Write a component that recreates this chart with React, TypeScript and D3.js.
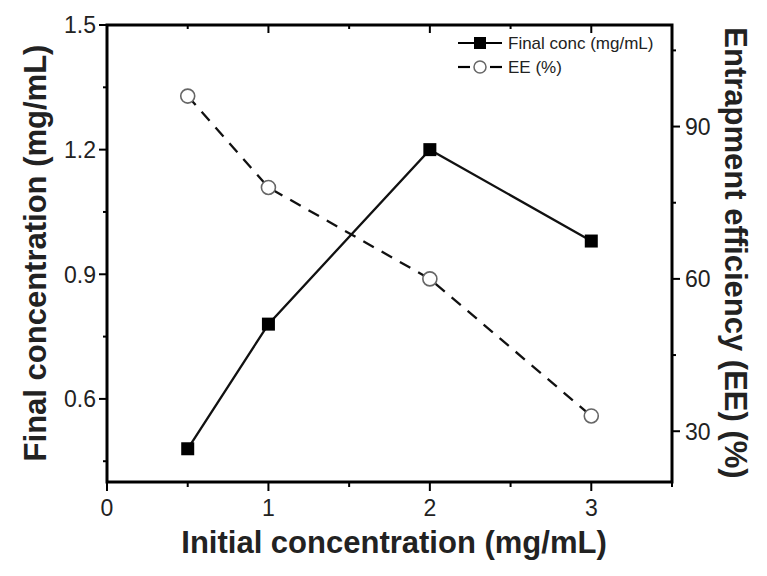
import React from "react";
import * as d3 from "d3";

const xValues = [0.5, 1, 2, 3];
const finalConc = [0.48, 0.78, 1.2, 0.98];
const eeValues = [96, 78, 60, 33];
const xTicks = [0, 1, 2, 3];
const xMinorTicks = [0.5, 1.5, 2.5, 3.5];
const leftTicks = [0.6, 0.9, 1.2, 1.5];
const leftMinorTicks = [0.45, 0.75, 1.05, 1.35];
const rightTicks = [30, 60, 90];
const rightMinorTicks = [45, 75, 105];
const legendLabels = ["Final conc (mg/mL)", "EE (%)"];

const W = 767;
const H = 576;
const M = { left: 107, right: 672, top: 25, bottom: 482 };
const FONT = "'Liberation Sans', Arial, Helvetica, sans-serif";

export default function App() {
  const x = d3.scaleLinear().domain([0, 3.5]).range([M.left, M.right]);
  const yL = d3.scaleLinear().domain([0.4, 1.5]).range([M.bottom, M.top]);
  const yR = d3.scaleLinear().domain([20, 110]).range([M.bottom, M.top]);

  const concLine = d3
    .line<number>()
    .x((_, i) => x(xValues[i]))
    .y((d) => yL(d))(finalConc) as string;
  const eeLine = d3
    .line<number>()
    .x((_, i) => x(xValues[i]))
    .y((d) => yR(d))(eeValues) as string;

  const sq = 13;
  const r = 7;
  const tickW = 2;

  return (
    <div style={{ position: "fixed", left: 0, top: 0 }}>
      <svg width={W} height={H} style={{ display: "block", background: "#fff" }} fontFamily={FONT}>
        <rect x={0} y={0} width={W} height={H} fill="#fff" />
        {/* lines */}
        <path d={eeLine} fill="none" stroke="#111" strokeWidth={2.3} strokeDasharray="12,9" />
        <path d={concLine} fill="none" stroke="#111" strokeWidth={2.3} />
        {/* markers */}
        {eeValues.map((v, i) => (
          <circle key={"c" + i} cx={x(xValues[i])} cy={yR(v)} r={r} fill="#fff" stroke="#666" strokeWidth={1.6} />
        ))}
        {finalConc.map((v, i) => (
          <rect key={"s" + i} x={x(xValues[i]) - sq / 2} y={yL(v) - sq / 2} width={sq} height={sq} fill="#000" />
        ))}

        {/* frame */}
        <rect x={M.left} y={M.top} width={M.right - M.left} height={M.bottom - M.top} fill="none" stroke="#000" strokeWidth={3} />

        {/* bottom ticks */}
        {xTicks.map((t) => (
          <g key={"bx" + t}>
            <line x1={x(t)} x2={x(t)} y1={M.bottom} y2={M.bottom + 9} stroke="#000" strokeWidth={tickW} />
            <text x={x(t)} y={M.bottom + 34} fontSize={23} textAnchor="middle" fill="#222">{t}</text>
          </g>
        ))}
        {xMinorTicks.map((t) => (
          <line key={"bm" + t} x1={x(t)} x2={x(t)} y1={M.bottom} y2={M.bottom + 5} stroke="#000" strokeWidth={tickW} />
        ))}
        {/* top ticks inward */}
        {xTicks.map((t) => (
          <line key={"tx" + t} x1={x(t)} x2={x(t)} y1={M.top} y2={M.top + 8} stroke="#000" strokeWidth={tickW} />
        ))}
        {xMinorTicks.map((t) => (
          <line key={"tm" + t} x1={x(t)} x2={x(t)} y1={M.top} y2={M.top + 4} stroke="#000" strokeWidth={tickW} />
        ))}

        {/* left ticks */}
        {leftTicks.map((t) => (
          <g key={"l" + t}>
            <line x1={M.left - 8} x2={M.left} y1={yL(t)} y2={yL(t)} stroke="#000" strokeWidth={tickW} />
            <text x={M.left - 11} y={yL(t)} dy="0.36em" fontSize={23} textAnchor="end" fill="#222">{t.toFixed(1)}</text>
          </g>
        ))}
        {leftMinorTicks.map((t) => (
          <line key={"lm" + t} x1={M.left - 4} x2={M.left} y1={yL(t)} y2={yL(t)} stroke="#000" strokeWidth={tickW} />
        ))}

        {/* right ticks */}
        {rightTicks.map((t) => (
          <g key={"r" + t}>
            <line x1={M.right} x2={M.right + 8} y1={yR(t)} y2={yR(t)} stroke="#000" strokeWidth={tickW} />
            <text x={M.right + 13} y={yR(t)} dy="0.36em" fontSize={23} textAnchor="start" fill="#222">{t}</text>
          </g>
        ))}
        {rightMinorTicks.map((t) => (
          <line key={"rm" + t} x1={M.right} x2={M.right + 4} y1={yR(t)} y2={yR(t)} stroke="#000" strokeWidth={tickW} />
        ))}

        {/* axis titles */}
        <text x={394} y={553} fontSize={31} fontWeight="bold" textAnchor="middle" fill="#222">
          Initial concentration (mg/mL)
        </text>
        <text transform={`translate(46, 253) rotate(-90)`} fontSize={31} fontWeight="bold" textAnchor="middle" fill="#222">
          Final concentration (mg/mL)
        </text>
        <text transform={`translate(725, 253) rotate(90)`} fontSize={31} fontWeight="bold" textAnchor="middle" fill="#222">
          Entrapment efficiency (EE) (%)
        </text>

        {/* legend */}
        <g>
          <line x1={458} x2={502} y1={43} y2={43} stroke="#000" strokeWidth={2.2} />
          <rect x={480 - 6} y={43 - 6} width={12} height={12} fill="#000" />
          <text x={508} y={43} dy="0.36em" fontSize={17} fill="#222">{legendLabels[0]}</text>
          <line x1={458} x2={470} y1={67} y2={67} stroke="#000" strokeWidth={2.2} />
          <line x1={490} x2={502} y1={67} y2={67} stroke="#000" strokeWidth={2.2} />
          <circle cx={480} cy={67} r={6} fill="#fff" stroke="#666" strokeWidth={1.5} />
          <text x={508} y={67} dy="0.36em" fontSize={17} fill="#222">{legendLabels[1]}</text>
        </g>
      </svg>
    </div>
  );
}
